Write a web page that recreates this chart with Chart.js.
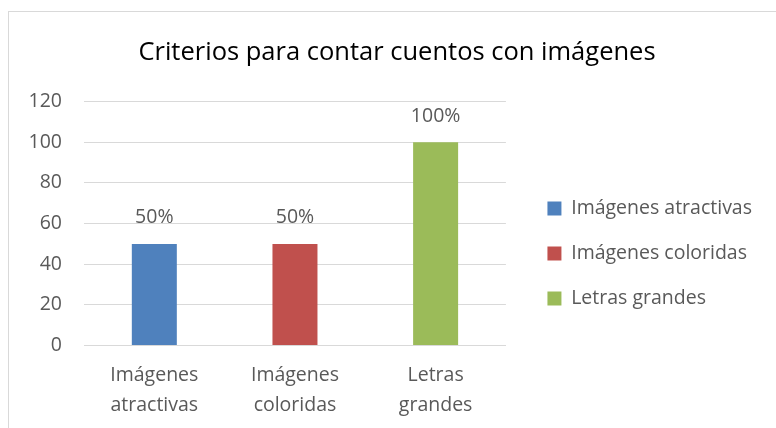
<!DOCTYPE html>
<html>
<head>
<meta charset="utf-8">
<script src="https://cdn.jsdelivr.net/npm/chart.js@4"></script>
<style>
  html,body{margin:0;padding:0;background:#fff;}
  #wrap{position:relative;width:776px;height:428px;overflow:hidden;}
  #frame{position:absolute;left:8px;top:11px;width:800px;height:500px;border:1px solid #d9d9d9;box-sizing:border-box;}
  canvas{position:absolute;left:0;top:0;}
</style>
</head>
<body>
<div id="wrap">
  <div id="frame"></div>
  <canvas id="myChart" width="776" height="428"></canvas>
</div>
<script>
const titulo='Criterios para contar cuentos con imágenes';
const categorias=[['Imágenes','atractivas'],['Imágenes','coloridas'],['Letras','grandes']];
const leyenda=['Imágenes atractivas','Imágenes coloridas','Letras grandes'];
const valores=[50,50,100];
const etiquetas=['50%','50%','100%'];
const colores=['#4f81bd','#c0504d','#9bbb59'];
const ticksY=[0,20,40,60,80,100,120];

const fuente="'Open Sans', 'Liberation Sans', sans-serif";
const gris='#595959';
const tam=19.5;

// dibuja el porcentaje encima de cada barra
const etiquetasPlugin={
  id:'etiquetas',
  afterDatasetsDraw(chart){
    let c=chart.ctx;
    let meta=chart.getDatasetMeta(0);
    c.save();
    c.font=tam+'px '+fuente;
    c.fillStyle=gris;
    c.textAlign='center';
    c.textBaseline='middle';
    meta.data.forEach((bar,i)=>{
      c.fillText(etiquetas[i],bar.x,bar.y-26);
    });
    c.restore();
  }
};

// ejes vacios, solo dejan hueco a los lados de la leyenda
function hueco(peso,ancho){
  return {
    position:'right',
    weight:peso,
    grid:{display:false,drawTicks:false},
    border:{display:false},
    ticks:{display:false},
    afterFit:s=>{s.width=ancho;}
  };
}

const ctx=document.getElementById('myChart').getContext('2d');
const myChart=new Chart(ctx,{
  type:'bar',
  data:{
    labels:categorias,
    datasets:[{
      data:valores,
      backgroundColor:colores,
      borderWidth:0,
      categoryPercentage:1,
      barPercentage:0.32
    }]
  },
  options:{
    responsive:false,
    animation:false,
    layout:{padding:{left:26,right:8,top:37,bottom:0}},
    plugins:{
      title:{
        display:true,
        text:titulo,
        color:'#000',
        font:{family:fuente,size:25.5,weight:'normal'},
        padding:{top:0,bottom:34}
      },
      legend:{
        position:'right',
        maxWidth:300,
        title:{display:true,text:'',font:{size:10},padding:{top:30,bottom:0}},
        labels:{
          color:gris,
          font:{family:fuente,size:tam},
          boxWidth:14,
          boxHeight:14,
          padding:25.5,
          generateLabels:()=>leyenda.map((t,i)=>({
            text:t,
            fillStyle:colores[i],
            strokeStyle:colores[i],
            lineWidth:0,
            fontColor:gris,
            index:i
          }))
        }
      },
      tooltip:{enabled:false}
    },
    scales:{
      x:{
        grid:{display:false},
        border:{color:'#d9d9d9',width:1},
        ticks:{color:gris,font:{family:fuente,size:tam,lineHeight:1.55},padding:7,maxRotation:0},
        afterFit:s=>{s.paddingLeft=0;s.paddingRight=0;}
      },
      y:{
        min:0,
        max:120,
        afterBuildTicks:axis=>{axis.ticks=ticksY.map(v=>({value:v}));},
        grid:{color:'#d9d9d9',drawTicks:false},
        border:{display:false},
        ticks:{color:gris,font:{family:fuente,size:tam},padding:22},
        afterFit:s=>{s.width=58;}
      },
      y2:hueco(0,16),
      y3:hueco(2000,6)
    }
  },
  plugins:[etiquetasPlugin]
});
</script>
</body>
</html>
